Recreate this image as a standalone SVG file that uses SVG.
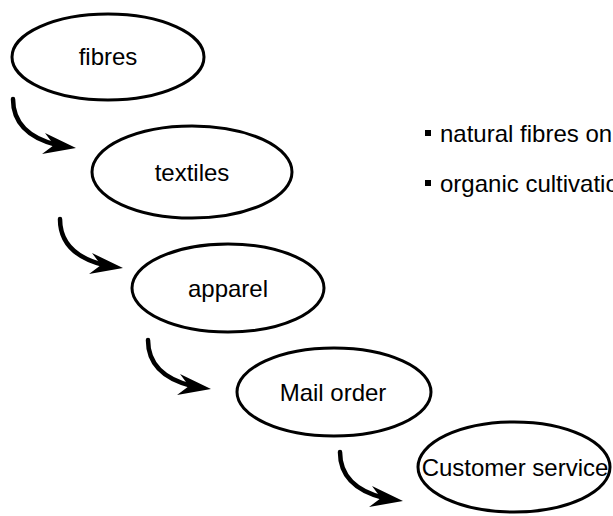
<svg xmlns="http://www.w3.org/2000/svg" xmlns:xlink="http://www.w3.org/1999/xlink" width="613" height="516" viewBox="0 0 613 516">
  <style>
    .node ellipse { fill: #ffffff; stroke: #000000; stroke-width: 3; }
    .node text, .bullets text { font-family: "Liberation Sans", Arial, sans-serif; font-size: 24px; fill: #000000; }
    .node text { text-anchor: middle; }
    .bullets rect { fill: #000000; }
  </style>
  <defs>
    <!-- curved step arrow, drawn from its start point -->
    <g id="step-arrow">
      <path d="M0,0 C0,24 16,39 44,46" fill="none" stroke="#000" stroke-width="4.5" stroke-linecap="round"/>
      <path d="M63,49 L32,34 L41,46 L29,55 Z" fill="#000"/>
    </g>
  </defs>
  <rect width="613" height="516" fill="#ffffff"/>

  <g id="connectors">
    <use xlink:href="#step-arrow" href="#step-arrow" x="13" y="99"/>
    <use xlink:href="#step-arrow" href="#step-arrow" x="60" y="219"/>
    <use xlink:href="#step-arrow" href="#step-arrow" x="148" y="340"/>
    <use xlink:href="#step-arrow" href="#step-arrow" x="340" y="452"/>
  </g>

  <g id="fibres" class="node">
    <ellipse cx="108" cy="57" rx="96" ry="43"/>
    <text x="108" y="65">fibres</text>
  </g>
  <g id="textiles" class="node">
    <ellipse cx="192" cy="172" rx="100" ry="46"/>
    <text x="192" y="181">textiles</text>
  </g>
  <g id="apparel" class="node">
    <ellipse cx="228" cy="288" rx="96" ry="44"/>
    <text x="228" y="297">apparel</text>
  </g>
  <g id="mail-order" class="node">
    <ellipse cx="334" cy="392" rx="97" ry="44"/>
    <text x="333" y="401">Mail order</text>
  </g>
  <g id="customer-service" class="node">
    <ellipse cx="514" cy="467" rx="96" ry="45"/>
    <text x="515" y="476">Customer service</text>
  </g>

  <g id="bullets" class="bullets">
    <rect x="425" y="130" width="6" height="6"/>
    <text x="440" y="142">natural fibres only</text>
    <rect x="425" y="180" width="6" height="6"/>
    <text x="440" y="192">organic cultivation</text>
  </g>
</svg>
